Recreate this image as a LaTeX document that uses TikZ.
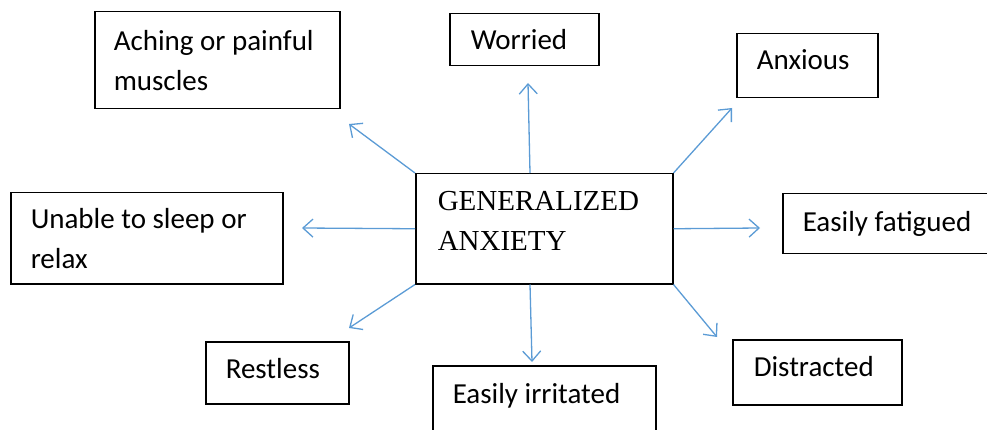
\documentclass[tikz,border=0pt]{standalone}
\usepackage{fontspec}
\setmainfont{Liberation Serif}
\newfontfamily\boxfont{Carlito}
\usetikzlibrary{arrows.meta}
\definecolor{arrowblue}{RGB}{91,155,213}

\begin{document}
\begin{tikzpicture}[x=1pt,y=-1pt]
\tikzstyle{box}=[draw,line width=1.5pt,anchor=north west,inner ysep=0pt,align=flush left,font=\boxfont\fontsize{29}{40}\selectfont]
\tikzstyle{arr}=[arrowblue,line width=1.3pt,-{Straight Barb[length=10pt,width=18pt]}]
\useasboundingbox (0,0) rectangle (987,430);
\clip (0,0) rectangle (987,430);
% centre
\node[box,font=\fontsize{29}{40}\selectfont,inner xsep=22pt,text width=213pt,text depth=56pt,minimum height=110pt] (gad) at (415,173) {GENERALIZED\\ANXIETY};
% symptoms
\node[box,inner xsep=19pt,text width=207pt,minimum height=97pt] (aching) at (94,11) {Aching or painful\\muscles};
\node[box,inner xsep=21pt,text width=107pt,minimum height=52pt] (worried) at (449,13) {Worried};
\node[box,inner xsep=20pt,text width=101pt,text depth=12pt,minimum height=64pt] (anxious) at (736,33) {Anxious};
\node[box,inner xsep=20pt,text width=232pt,minimum height=91pt] (unable) at (10,192) {Unable to sleep or\\relax};
\node[box,inner xsep=20pt,text width=180pt,minimum height=60pt] (fatigued) at (782,193) {Easily fatigued};
\node[box,inner xsep=20pt,text width=103pt,text depth=8pt,minimum height=62pt] (restless) at (205,341) {Restless};
\node[box,inner xsep=21pt,text width=127pt,text depth=12pt,minimum height=65pt] (distracted) at (732,339) {Distracted};
\node[box,inner xsep=20pt,inner ysep=18pt,text width=183pt,text depth=40pt] (irritated) at (432,365) {Easily irritated};
% arrow tips
\coordinate (tNW) at (349,124);
\coordinate (tN) at (528,83);
\coordinate (tNE) at (732,108);
\coordinate (tW) at (302,228);
\coordinate (tE) at (760,228);
\coordinate (tSW) at (349,328);
\coordinate (tS) at (532,362);
\coordinate (tSE) at (717,337);
\draw[arr] (gad.north west) -- (tNW);
\draw[arr] ([xshift=115pt]gad.north west) -- (tN);
\draw[arr] (gad.north east) -- (tNE);
\draw[arr] (gad.west) -- (tW);
\draw[arr] (gad.east) -- (tE);
\draw[arr] (gad.south west) -- (tSW);
\draw[arr] ([xshift=115pt]gad.south west) -- (tS);
\draw[arr] (gad.south east) -- (tSE);
\end{tikzpicture}
\end{document}
